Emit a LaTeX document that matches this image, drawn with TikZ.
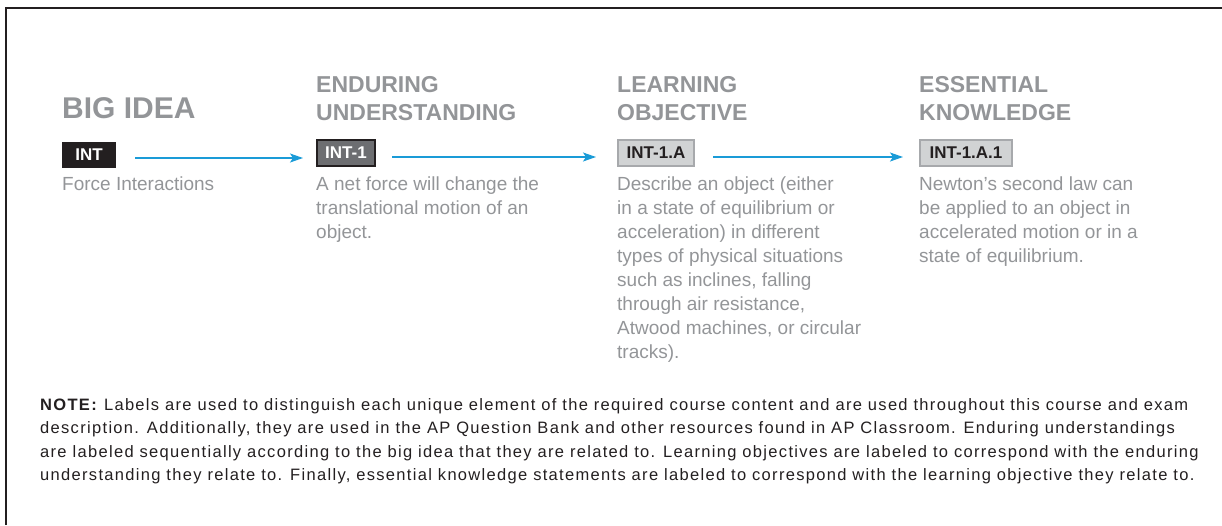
\documentclass[tikz,border=0pt]{standalone}
\usepackage{fontspec}
\setmainfont{Liberation Sans}
\newfontfamily\notefont[LetterSpace=8]{Liberation Sans}
\usetikzlibrary{arrows.meta}

\definecolor{r147g149b152}{HTML}{939598}
\definecolor{r109g110b113}{HTML}{6D6E71}
\definecolor{r209g211b212}{HTML}{D1D3D4}
\definecolor{r167g169b172}{HTML}{A7A9AC}
\definecolor{r35g31b32}{HTML}{231F20}
\definecolor{r26g155b215}{HTML}{1A9BD7}

\newcommand{\colpar}[2]{\parbox[t]{#1}{\raggedright #2}}

\begin{document}
\begin{tikzpicture}[x=1pt,y=-1pt,
    heading/.style={font=\fontsize{23}{28}\selectfont\bfseries, text=r147g149b152, inner sep=0pt, anchor=base west},
    bodytext/.style={font=\fontsize{19}{24}\selectfont, text=r147g149b152, inner sep=0pt, anchor=base west},
    tag/.style={font=\fontsize{17}{17}\selectfont\bfseries, inner sep=0pt, minimum height=26pt, line width=2pt},
    flow/.style={draw=r26g155b215, line width=1.4pt, -{Stealth[length=13pt,width=9pt,inset=3pt]}}]
% \clip (0,0) rectangle (1222,525);
\useasboundingbox (0,0) rectangle (1222,525);

% Drawing frame
\draw [line width=1.5pt, color=r35g31b32] (6,525) -- (6,8) -- (1222,8);

% Drawing headings
\node [heading, font=\fontsize{30}{34}\selectfont\bfseries] (hbig) at (62,118) {BIG IDEA};
\node [heading] (heu) at (316,92) {\colpar{260pt}{ENDURING\\UNDERSTANDING}};
\node [heading] (hlo) at (617,92) {\colpar{260pt}{LEARNING\\OBJECTIVE}};
\node [heading] (hek) at (919,92) {\colpar{260pt}{ESSENTIAL\\KNOWLEDGE}};

% Drawing labels
\node [tag, fill=r35g31b32, text=white, minimum width=54pt] (int) at (89,155) {INT};
\node [tag, fill=r109g110b113, draw=r35g31b32, text=white, minimum width=58pt] (int1) at (346,153) {INT-1};
\node [tag, fill=r209g211b212, draw=r167g169b172, text=r35g31b32, minimum width=76pt] (int1a) at (656,153) {INT-1.A};
\node [tag, fill=r209g211b212, draw=r167g169b172, text=r35g31b32, minimum width=92pt] (int1a1) at (966,153) {INT-1.A.1};

% Drawing arrows
\draw [flow, shorten <=18pt, shorten >=13pt] ([yshift=-3pt]int.east) -- ([yshift=-3pt]int.east -| int1.west);
\draw [flow, shorten <=16pt, shorten >=21pt] ([yshift=-4pt]int1.east) -- ([yshift=-4pt]int1.east -| int1a.west);
\draw [flow, shorten <=18pt, shorten >=16pt] ([yshift=-4pt]int1a.east) -- ([yshift=-4pt]int1a.east -| int1a1.west);

% Drawing descriptions
\node [bodytext] (tbig) at (62,190) {Force Interactions};
\node [bodytext] (teu) at (316,190) {\colpar{260pt}{A net force will change the\\translational motion of an\\object.}};
\node [bodytext] (tlo) at (617,190) {\colpar{260pt}{Describe an object (either\\in a state of equilibrium or\\acceleration) in different\\types of physical situations\\such as inclines, falling\\through air resistance,\\Atwood machines, or circular\\tracks).}};
\node [bodytext] (tek) at (919,190) {\colpar{260pt}{Newton’s second law can\\be applied to an object in\\accelerated motion or in a\\state of equilibrium.}};

% Drawing note
\node [bodytext, font=\notefont\fontsize{16.5}{23.5}\selectfont, text=r35g31b32] (note) at (40,410) {\colpar{1180pt}{\textbf{NOTE:} Labels are used to distinguish each unique element of the required course content and are used throughout this course and exam\\description. Additionally, they are used in the AP Question Bank and other resources found in AP Classroom. Enduring understandings\\are labeled sequentially according to the big idea that they are related to. Learning objectives are labeled to correspond with the enduring\\understanding they relate to. Finally, essential knowledge statements are labeled to correspond with the learning objective they relate to.}};
\end{tikzpicture}
\end{document}
